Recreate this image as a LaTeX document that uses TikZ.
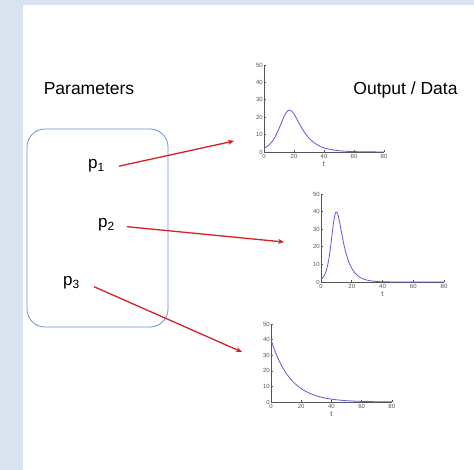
\documentclass[tikz,border=0pt]{standalone}
\usepackage{fontspec}
\setmainfont{Liberation Sans}
\usetikzlibrary{arrows.meta}
\definecolor{bgblue}{HTML}{D9E3EF}
\definecolor{boxblue}{HTML}{6F93D8}
\definecolor{arrred}{HTML}{D42222}
\definecolor{curve}{HTML}{5A5AE0}
\definecolor{axisgray}{HTML}{555555}
\tikzset{
  bigtext/.style={font=\fontsize{17.5}{20}\selectfont, inner sep=0pt},
  plabel/.style={font=\fontsize{17}{20}\selectfont, inner sep=0pt, anchor=base west},
  parrow/.style={draw=arrred, line width=1.3pt, -{Stealth[length=6pt,width=5pt]}},
  axisline/.style={draw=axisgray, line width=0.6pt},
  ticklab/.style={font=\fontsize{6}{7}\selectfont, text=axisgray, inner sep=1pt},
  tlab/.style={font=\fontsize{7.5}{8}\selectfont, text=axisgray, inner sep=0pt},
  curvestyle/.style={draw=curve, line width=0.8pt},
}
\newcommand{\myaxes}[2]{% #1 = x unit (px per t), #2 = y unit (px per value)
  \draw[axisline] (0,-50*#2) -- (0,0) -- (80*#1,0);
  \foreach \v in {0,10,...,50} {
    \draw[axisline] (0,-\v*#2) -- ++(1.8,0);
    \node[ticklab, anchor=east] at (0,-\v*#2) {\v};
  }
  \foreach \u in {0,20,...,80} {
    \draw[axisline] (\u*#1,0) -- ++(0,-1.8);
    \node[ticklab, anchor=north] at (\u*#1,1.5) {\u};
  }
  \node[tlab, anchor=north] at (40*#1,9) {t};
}
\begin{document}
\begin{tikzpicture}[x=1pt,y=-1pt]
\useasboundingbox (0,0) rectangle (474,470);
\fill[bgblue] (0,0) rectangle (474,470);
\fill[white] (22.5,5.5) rectangle (474,470);

% titles
\node[bigtext, anchor=base] (partitle) at (89,95) {Parameters};
\node[bigtext, anchor=base] (outtitle) at (405.5,95) {Output / Data};

% parameter box
\node[draw=boxblue, line width=0.8pt, rounded corners=18pt,
      minimum width=141pt, minimum height=198pt, inner sep=0pt] (params) at (97.5,228) {};

\node[plabel] (p1) at (88,169) {p\textsubscript{1}};
\node[plabel] (p2) at (98,228) {p\textsubscript{2}};
\node[plabel] (p3) at (63,286) {p\textsubscript{3}};

% plot 1
\begin{scope}[shift={(264,152)}]
  \myaxes{1.5}{1.74}
  \draw[curvestyle, domain=0:60, samples=80, smooth]
    plot ({1.5*\x}, {-1.74*46.5/(exp(0.12*(\x-15.4))+exp(-0.2*(\x-15.4)))})
    -- (80*1.5,0);
\end{scope}
\coordinate (t1) at (234,141);

% plot 2
\begin{scope}[shift={(321,282)}]
  \myaxes{1.5375}{1.76}
  \draw[curvestyle, domain=0:48, samples=80, smooth]
    plot ({1.5375*\x}, {-1.76*74/(exp(0.2*(\x-8.75))+exp(-0.45*(\x-8.75)))})
    -- (80*1.5375,0);
\end{scope}
\coordinate (t2) at (284,242);

% plot 3
\begin{scope}[shift={(271,402)}]
  \myaxes{1.51}{1.56}
  \draw[curvestyle, domain=0:80, samples=80, smooth]
    plot ({1.51*\x}, {-1.56*40*exp(-\x/13)});
\end{scope}
\coordinate (t3) at (242,352);

% arrows
\draw[parrow] ([shift={(14,0)}]p1.east) -- (t1);
\draw[parrow] ([shift={(12,1.5)}]p2.east) -- (t2);
\draw[parrow] ([shift={(14,3.5)}]p3.east) -- (t3);
\end{tikzpicture}
\end{document}
